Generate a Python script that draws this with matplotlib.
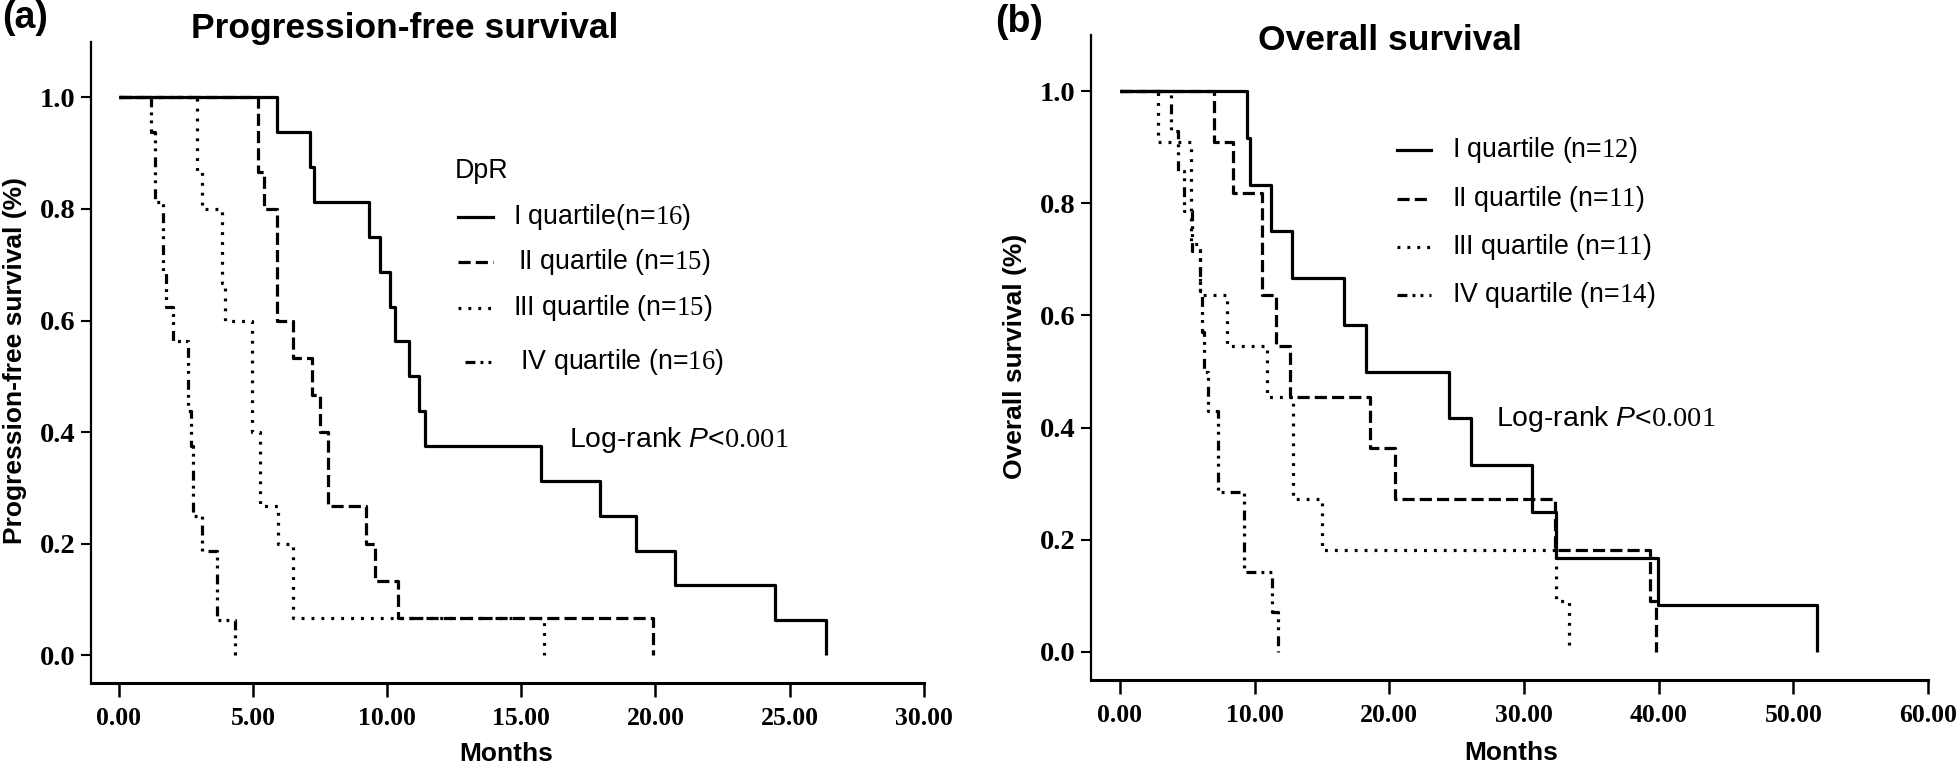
import matplotlib
matplotlib.use("Agg")
import matplotlib.pyplot as plt
from matplotlib.lines import Line2D

plt.rcParams['font.family'] = ['Liberation Sans', 'DejaVu Sans']
plt.rcParams['mathtext.fontset'] = 'custom'
plt.rcParams['mathtext.rm'] = 'Liberation Serif'
plt.rcParams['mathtext.it'] = 'Liberation Sans:italic'
plt.rcParams['mathtext.bf'] = 'Liberation Serif:bold'

# ---------------- data: Progression-free survival (months, survival) ----------------
pfs_q1_t = [5.89, 7.13, 7.29, 9.32, 9.74, 10.09, 10.30, 10.83, 11.18, 11.41, 15.72, 17.94, 19.26, 20.73, 24.46, 26.37]
pfs_q1_s = [0.9375, 0.875, 0.8125, 0.75, 0.6875, 0.625, 0.5625, 0.5, 0.4375, 0.375, 0.3125, 0.25, 0.1875, 0.125, 0.0625, 0.0]
pfs_q2_t = [5.20, 5.42, 5.89, 6.51, 7.19, 7.50, 7.78, 9.20, 9.55, 10.39, 19.92]
pfs_q2_s = [0.867, 0.800, 0.600, 0.533, 0.467, 0.400, 0.267, 0.200, 0.133, 0.067, 0.0]
pfs_q3_t = [2.90, 3.09, 3.84, 3.96, 4.98, 5.25, 5.95, 6.51, 15.84]
pfs_q3_s = [0.867, 0.800, 0.667, 0.600, 0.400, 0.267, 0.200, 0.067, 0.0]
pfs_q4_t = [1.19, 1.36, 1.66, 1.76, 2.01, 2.59, 2.69, 2.78, 3.09, 3.67, 4.35]
pfs_q4_s = [0.9375, 0.8125, 0.6875, 0.625, 0.5625, 0.4375, 0.375, 0.25, 0.1875, 0.0625, 0.0]

# ---------------- data: Overall survival ----------------
os_q1_t = [9.40, 9.65, 11.19, 12.74, 16.66, 18.24, 24.40, 26.03, 30.58, 32.39, 39.95, 51.79]
os_q1_s = [0.917, 0.833, 0.750, 0.667, 0.583, 0.500, 0.417, 0.333, 0.250, 0.167, 0.083, 0.0]
os_q2_t = [7.00, 8.36, 10.52, 11.58, 12.60, 18.60, 20.46, 32.30, 39.35, 39.81]
os_q2_s = [0.909, 0.818, 0.636, 0.545, 0.455, 0.364, 0.273, 0.182, 0.091, 0.0]
os_q3_t = [2.85, 5.25, 5.94, 7.92, 10.89, 12.87, 14.97, 32.39, 33.36]
os_q3_s = [0.909, 0.727, 0.636, 0.545, 0.455, 0.273, 0.182, 0.091, 0.0]
os_q4_t = [3.76, 4.33, 4.75, 5.32, 5.95, 6.10, 6.25, 6.55, 7.30, 9.20, 11.26, 11.75]
os_q4_s = [0.929, 0.857, 0.786, 0.714, 0.643, 0.571, 0.500, 0.429, 0.286, 0.143, 0.071, 0.0]

pfs_labels = ["I quartile(n=$\\mathrm{16}$)", "II quartile (n=$\\mathrm{15}$)",
              "III quartile (n=$\\mathrm{15}$)", " IV quartile (n=$\\mathrm{16}$)"]
os_labels = ["I quartile (n=$\\mathrm{12}$)", "II quartile (n=$\\mathrm{11}$)",
             "III quartile (n=$\\mathrm{11}$)", "IV quartile (n=$\\mathrm{14}$)"]

pfs_xticks = [0, 5, 10, 15, 20, 25, 30]
os_xticks = [0, 10, 20, 30, 40, 50, 60]
yticks = [0.0, 0.2, 0.4, 0.6, 0.8, 1.0]

# ---------------- styles ----------------
LW = 2.3
styles = [
    dict(linestyle='-'),
    dict(linestyle=(0, (3.8, 1.6))),
    dict(linestyle=(0, (0.9, 2.2))),
    dict(linestyle=(0, (3.1, 1.6, 0.9, 1.6, 0.9, 1.9))),
]

W, H = 1960, 768
fig = plt.figure(figsize=(W / 100, H / 100), dpi=100)


def fx(px):
    return px / W


def fy(py):
    return 1 - py / H


def make_axes(left, right, top, bottom):
    return fig.add_axes([fx(left), fy(bottom), fx(right) - fx(left), fy(top) - fy(bottom)])


ax1 = make_axes(90.6, 923.75, 41.7, 683)
ax2 = make_axes(1091, 1928, 35, 680)

xtick_font = dict(family='Liberation Serif', weight='bold', size=18.5)
ytick_font = dict(family='Liberation Serif', weight='bold', size=20.5)


def style_axes(ax, xticks, xmin):
    ax.set_xlim(xmin, xticks[-1])
    ax.set_ylim(-0.05, 1.1)
    for s in ['top', 'right']:
        ax.spines[s].set_visible(False)
    ax.spines['left'].set_linewidth(1.6)
    ax.spines['bottom'].set_linewidth(2.2)
    ax.set_xticks(xticks)
    ax.set_xticklabels([f"{v:.2f}" for v in xticks], fontdict=xtick_font)
    ax.set_yticks(yticks)
    ax.set_yticklabels([f"{v:.1f}" for v in yticks], fontdict=ytick_font)
    ax.tick_params(axis='x', length=10, width=1.8, pad=7)
    ax.tick_params(axis='y', length=7, width=1.5, pad=4)


def km(ax, t, s, st):
    ax.plot([0.0] + t, [1.0] + s, drawstyle='steps-post', color='black', lw=LW,
            solid_capstyle='butt', dash_capstyle='butt', **st)


for t, s, st in zip([pfs_q1_t, pfs_q2_t, pfs_q3_t, pfs_q4_t],
                    [pfs_q1_s, pfs_q2_s, pfs_q3_s, pfs_q4_s], styles):
    km(ax1, t, s, st)
for t, s, st in zip([os_q1_t, os_q2_t, os_q3_t, os_q4_t],
                    [os_q1_s, os_q2_s, os_q3_s, os_q4_s], styles):
    km(ax2, t, s, st)

style_axes(ax1, pfs_xticks, -1.05)
style_axes(ax2, os_xticks, -2.15)

label_font = dict(family='Liberation Sans', weight='bold', size=19)
fig.text(fx(506), fy(754), "Months", ha='center', va='center', **label_font)
fig.text(fx(1511), fy(753), "Months", ha='center', va='center', **label_font)
fig.text(fx(15), fy(360), "Progression-free survival (%)", ha='center', va='center',
         rotation=90, **label_font)
fig.text(fx(1015), fy(356), "Overall survival (%)", ha='center', va='center',
         rotation=90, **label_font)

title_font = dict(family='Liberation Sans', weight='bold', size=25.5)
fig.text(fx(405), fy(38), "Progression-free survival", ha='center', va='baseline', **title_font)
fig.text(fx(1390), fy(50), "Overall survival", ha='center', va='baseline', **title_font)
fig.text(fx(2), fy(28), "(a)", ha='left', va='baseline', family='Liberation Sans', weight='bold', size=27)
fig.text(fx(995), fy(32), "(b)", ha='left', va='baseline', family='Liberation Sans', weight='bold', size=27)

leg_size = 19.3
# legend panel a
fig.text(fx(455), fy(171), "DpR", ha='left', va='center', size=leg_size)
rows_a = [217, 262, 308, 362]
text_x_a = [513, 518, 513, 513]
for i, (y, lab) in enumerate(zip(rows_a, pfs_labels)):
    x0 = 465 if i == 3 else 458
    fig.add_artist(Line2D([fx(x0), fx(493)], [fy(y), fy(y)], transform=fig.transFigure,
                          color='black', lw=LW, dash_capstyle='butt', **styles[i]))
    fig.text(fx(text_x_a[i]), fy(y), lab, ha='left', va='center', size=leg_size)

# legend panel b
rows_b = [150, 199, 247, 295]
for i, (y, lab) in enumerate(zip(rows_b, os_labels)):
    fig.add_artist(Line2D([fx(1397), fx(1431)], [fy(y), fy(y)], transform=fig.transFigure,
                          color='black', lw=LW, dash_capstyle='butt', **styles[i]))
    fig.text(fx(1452), fy(y), lab, ha='left', va='center', size=leg_size)

lr = "Log-rank $\\mathit{P}$<$\\mathrm{0.001}$"
fig.text(fx(569), fy(440), lr, ha='left', va='center', size=20.4)
fig.text(fx(1496), fy(419), lr, ha='left', va='center', size=20.4)

fig.savefig("out.png", dpi=100)
